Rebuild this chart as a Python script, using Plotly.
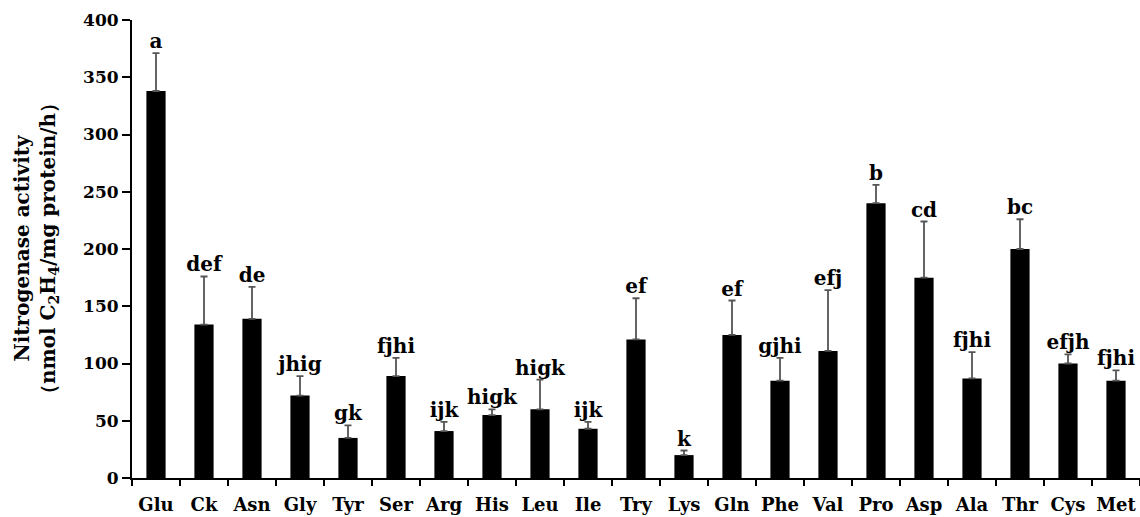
import plotly.graph_objects as go

# Amino acid treatments
categories = ["Glu", "Ck", "Asn", "Gly", "Tyr", "Ser", "Arg", "His", "Leu", "Ile", "Try",
              "Lys", "Gln", "Phe", "Val", "Pro", "Asp", "Ala", "Thr", "Cys", "Met"]
# Mean nitrogenase activity (nmol C2H4 / mg protein / h)
activity = [338, 134, 139, 72, 35, 89, 41, 55, 60, 43, 121,
            20, 125, 85, 111, 240, 175, 87, 200, 100, 85]
# Standard deviation (upper error bar only)
std_dev = [33, 42, 28, 17, 11, 16, 8, 5, 26, 6, 36,
           4, 30, 20, 53, 16, 49, 23, 26, 8, 9]
# Significance letters
sig_letters = ["a", "def", "de", "jhig", "gk", "fjhi", "ijk", "higk", "higk", "ijk", "ef",
               "k", "ef", "gjhi", "efj", "b", "cd", "fjhi", "bc", "efjh", "fjhi"]
y_ticks = [0, 50, 100, 150, 200, 250, 300, 350, 400]

serif = "DejaVu Serif, Liberation Serif, serif"

fig = go.Figure()
fig.add_trace(go.Bar(
    x=categories,
    y=activity,
    width=0.4,
    marker=dict(color="#000000", line=dict(width=0)),
    error_y=dict(type="data", array=std_dev, arrayminus=[0] * len(std_dev),
                 symmetric=False, color="#555555", thickness=1.8, width=3.5),
    showlegend=False,
))

# Letters sit just above each error bar
fig.add_trace(go.Scatter(
    x=categories,
    y=[a + s for a, s in zip(activity, std_dev)],
    mode="text",
    text=sig_letters,
    textposition="top center",
    textfont=dict(family=serif, size=20, color="#000000", weight="bold"),
    showlegend=False,
    cliponaxis=False,
))

# Two-line y-axis title
fig.add_annotation(
    text="Nitrogenase activity<br>（nmol C<sub>2</sub>H<sub>4</sub>/mg protein/h）",
    xref="paper", yref="paper", x=0, y=0.5,
    xanchor="center", yanchor="middle", xshift=-96,
    textangle=-90, showarrow=False,
    font=dict(family=serif, size=20, color="#000000", weight="bold"),
)

fig.update_layout(
    width=1140, height=517,
    margin=dict(l=132, r=0, t=20, b=39),
    paper_bgcolor="white", plot_bgcolor="white",
    font=dict(family=serif, color="#000000"),
    xaxis=dict(
        type="category",
        range=[-0.5, 20.5],
        automargin=False,
        tickangle=0,
        ticklabelstandoff=9,
        showline=True, linecolor="#000000", linewidth=2,
        ticks="outside", tickson="boundaries", ticklen=6, tickwidth=1.5, tickcolor="#000000",
        tickfont=dict(family=serif, size=18, color="#000000", weight="bold"),
        showgrid=False, zeroline=False,
    ),
    yaxis=dict(
        range=[0, 400],
        tickvals=y_ticks,
        automargin=False,
        showline=True, linecolor="#000000", linewidth=2,
        ticks="outside", ticklen=8, tickwidth=1.5, tickcolor="#000000",
        tickfont=dict(family=serif, size=17, color="#000000", weight="bold"),
        showgrid=False, zeroline=False,
    ),
)

fig.write_html("out.html")
